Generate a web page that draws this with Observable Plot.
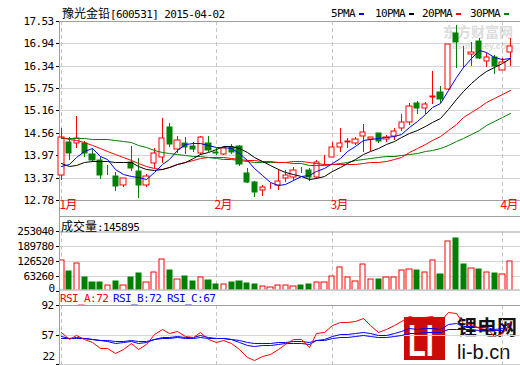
<!DOCTYPE html>
<html><head><meta charset="utf-8">
<script src="https://cdn.jsdelivr.net/npm/d3@7"></script>
<script src="https://cdn.jsdelivr.net/npm/@observablehq/plot@0.6"></script>
<style>
body{margin:0;background:#fff}
#wrap{position:relative;width:520px;height:365px;overflow:hidden;background:#fff}
.t{position:absolute;white-space:nowrap;line-height:14px}
.m{font-family:"DejaVu Sans Mono",monospace;font-size:11px;letter-spacing:-0.6px}
.c{font-family:"Noto Sans CJK SC",sans-serif;font-size:12px}
.dash{position:absolute;height:2px;width:5px}
.hl{position:absolute;height:1px;background:#a0a0a0}
</style></head><body><div id="wrap"></div>
<script>
// ---- data ----
const monthIdx = [0, 20, 35, 57];
const monthLabels = ["1月", "2月", "3月", "4月"];
const priceTicks = [12.78, 13.37, 13.97, 14.56, 15.16, 15.75, 16.34, 16.94, 17.53];
const volTicks = [0, 63260, 126520, 189780, 253040];
const rsiTicks = [22, 57, 92];

const open  = [13.44,14.33,14.28,14.28,14.00,13.84,13.54,13.42,13.18,13.80,13.56,13.18,13.75,13.93,14.71,14.13,14.30,14.21,14.02,14.28,14.05,13.99,14.19,14.21,13.50,13.27,13.05,13.15,13.18,13.36,13.38,13.58,13.58,13.38,13.83,13.93,14.18,14.31,14.30,14.49,14.39,14.55,14.40,14.48,14.70,14.84,15.35,15.21,15.52,15.65,15.72,17.20,16.68,16.65,17.01,16.47,16.58,16.23,16.72];
const high  = [14.68,14.44,15.01,14.35,14.15,13.91,13.71,13.53,13.36,14.21,13.89,13.47,14.15,14.95,14.83,14.48,14.44,14.33,14.48,14.48,14.15,14.19,14.26,14.24,13.62,13.29,13.18,13.22,13.59,13.58,13.65,13.66,13.62,13.84,13.97,14.33,14.68,14.42,14.46,14.80,14.46,14.57,14.50,14.68,15.07,15.35,15.41,15.37,16.20,15.81,16.92,17.42,16.87,16.98,17.09,16.67,16.63,16.56,17.09];
const low   = [13.31,13.84,14.15,13.91,13.80,13.34,13.44,13.03,13.12,13.56,12.84,13.12,13.62,13.75,14.18,14.02,14.00,14.06,13.97,14.06,13.97,13.97,14.00,13.69,13.22,12.87,12.89,13.06,13.05,13.27,13.29,13.49,13.29,13.36,13.71,13.91,14.06,14.15,14.24,14.06,14.09,14.28,14.33,14.37,14.61,14.77,15.05,15.05,15.32,15.35,15.71,16.28,16.28,16.34,16.51,16.32,16.12,16.22,16.34];
const close = [14.46,14.04,14.43,14.04,13.84,13.44,13.56,13.16,13.36,13.64,13.18,13.42,14.04,14.42,14.26,14.37,14.19,14.14,14.44,14.11,14.04,14.15,14.05,13.73,13.27,13.00,13.13,13.16,13.28,13.44,13.58,13.57,13.38,13.80,13.85,14.19,14.28,14.35,14.39,14.58,14.44,14.35,14.44,14.62,14.84,15.28,15.21,15.32,15.54,15.45,16.91,16.97,16.67,16.72,16.54,16.58,16.34,16.45,16.87];
const volume = [131700,84900,120000,58500,36600,36600,26300,41000,26300,58500,76100,39500,80500,136100,89200,52700,61400,41000,60000,45400,29300,27800,36600,41000,33600,27800,21900,17600,26300,26300,21900,23400,27800,36600,39500,61400,101000,57100,43900,114100,52700,49700,57100,57100,87800,92200,89200,79000,131700,71700,210700,225300,115600,96600,93600,80500,76100,71700,127300];

const ma5  = [13.69,13.74,13.91,14.09,14.16,13.96,13.86,13.61,13.47,13.43,13.38,13.35,13.53,13.74,13.86,14.10,14.26,14.28,14.28,14.25,14.18,14.18,14.16,14.02,13.85,13.64,13.44,13.26,13.17,13.20,13.32,13.41,13.45,13.55,13.64,13.76,13.90,14.09,14.21,14.36,14.41,14.42,14.44,14.49,14.54,14.71,14.88,15.05,15.24,15.36,15.69,16.04,16.31,16.54,16.76,16.70,16.57,16.53,16.56];
const ma10 = [13.75,13.69,13.72,13.78,13.81,13.82,13.81,13.80,13.79,13.80,13.67,13.61,13.57,13.61,13.65,13.74,13.80,13.90,14.01,14.06,14.14,14.22,14.22,14.15,14.05,13.91,13.81,13.71,13.59,13.53,13.48,13.42,13.35,13.36,13.42,13.54,13.65,13.77,13.88,14.00,14.08,14.16,14.27,14.35,14.45,14.56,14.65,14.75,14.86,14.95,15.20,15.46,15.68,15.89,16.06,16.19,16.30,16.42,16.55];
const ma20 = [14.44,14.40,14.37,14.32,14.25,14.17,14.09,14.00,13.92,13.85,13.77,13.68,13.62,13.60,13.66,13.73,13.80,13.85,13.90,13.93,13.91,13.91,13.89,13.88,13.85,13.83,13.81,13.81,13.80,13.79,13.81,13.82,13.79,13.76,13.73,13.73,13.73,13.74,13.74,13.76,13.78,13.79,13.81,13.86,13.93,14.05,14.15,14.26,14.37,14.47,14.64,14.81,14.97,15.12,15.26,15.37,15.48,15.58,15.71];
const ma30 = [14.42,14.42,14.42,14.42,14.41,14.40,14.39,14.37,14.35,14.31,14.25,14.18,14.10,14.05,14.02,14.00,13.98,13.96,13.94,13.92,13.90,13.88,13.86,13.83,13.81,13.80,13.80,13.80,13.80,13.79,13.76,13.75,13.71,13.71,13.71,13.73,13.75,13.79,13.83,13.86,13.90,13.93,13.95,13.95,13.97,14.00,14.04,14.08,14.11,14.16,14.25,14.35,14.43,14.53,14.64,14.76,14.87,14.98,15.10];

const rsiA = [60.1,51.2,57.0,51.2,48.5,41.5,40.7,35.6,39.5,47.3,39.5,45.3,57.8,63.6,59.0,60.9,55.0,53.9,59.7,51.2,48.5,50.0,47.3,39.5,30.5,26.7,31.0,33.7,39.5,46.1,52.0,52.0,42.6,59.0,60.1,68.7,71.4,71.8,72.6,76.5,68.7,59.7,63.6,68.7,73.3,79.5,76.5,77.6,78.4,72.6,83.5,82.3,70.6,69.5,64.8,65.6,55.8,59.0,72.0];
const rsiB = [55.0,53.0,54.0,52.5,52.0,50.0,49.0,47.5,48.0,49.0,47.5,48.0,51.5,54.5,54.0,55.0,54.5,54.0,56.0,54.0,53.0,53.0,52.0,48.5,45.0,43.5,44.0,44.5,45.5,46.5,47.5,47.5,45.5,50.5,52.0,55.5,57.5,58.0,58.5,60.5,58.5,56.0,57.0,59.0,61.5,64.5,64.0,64.5,65.0,63.5,70.0,70.5,67.5,67.0,65.5,66.0,63.5,64.5,72.0];
const rsiC = [53.0,52.5,53.0,52.5,52.0,51.0,50.5,49.5,49.5,50.0,49.0,49.5,51.5,53.0,53.0,53.5,53.0,53.0,54.0,53.0,52.5,52.5,52.0,50.5,48.5,47.5,47.5,47.5,48.0,48.5,49.0,49.0,48.0,50.5,51.0,53.0,54.0,54.5,55.0,56.0,55.0,54.0,54.5,55.5,57.0,59.0,59.0,59.5,60.0,59.5,63.5,64.0,63.0,63.0,62.5,63.0,62.0,62.5,67.0];

// ---- drawing ----
const wrap = document.getElementById("wrap");
const idx = d3.range(close.length);
const up = idx.filter(i => close[i] >= open[i]);
const dn = idx.filter(i => close[i] < open[i]);
const RED = "#ff0000", GRN = "#008000", FRAME = "#a0a0a0", GRID = "#d4d4d4", DASH = "#c4c4c4";
const X = {domain: [0, 58], range: [61, 509.7], round: true, axis: null};
const baseStyle = {background: "transparent", fontFamily: "DejaVu Sans Mono, monospace", fontSize: "11px", letterSpacing: "-0.6px", color: "#000", overflow: "visible"};
const hw = 0.34;

function put(el, top, left, z) {
  el.style.position = "absolute"; el.style.top = top + "px"; el.style.left = left + "px"; el.style.zIndex = z;
  wrap.appendChild(el);
}

// price panel
const price = Plot.plot({
  width: 520, height: 217, marginLeft: 59, marginRight: 0, marginTop: 21, marginBottom: 17,
  style: baseStyle,
  x: X,
  y: {domain: [12.78, 17.53], range: [200, 21], round: true, ticks: priceTicks, tickFormat: d => d.toFixed(2), tickSize: 3, tickPadding: 3, label: null},
  marks: [
    Plot.ruleY(priceTicks.slice(1, -1), {stroke: GRID}),
    Plot.ruleX(monthIdx, {stroke: DASH, strokeDasharray: "4,3"}),
    Plot.frame({stroke: FRAME}),
    Plot.ruleX(up, {x: i => i, y1: i => low[i], y2: i => high[i], stroke: RED}),
    Plot.ruleX(dn, {x: i => i, y1: i => low[i], y2: i => high[i], stroke: GRN}),
    Plot.rect(up, {x1: i => i - hw, x2: i => i + hw, y1: i => open[i], y2: i => close[i], fill: "white", stroke: RED}),
    Plot.rect(dn, {x1: i => i - hw, x2: i => i + hw, y1: i => open[i], y2: i => close[i], fill: GRN, stroke: GRN}),
    Plot.lineY(ma30, {x: (d, i) => i, y: d => d, stroke: GRN, strokeWidth: 1}),
    Plot.lineY(ma20, {x: (d, i) => i, y: d => d, stroke: RED, strokeWidth: 1}),
    Plot.lineY(ma10, {x: (d, i) => i, y: d => d, stroke: "#000", strokeWidth: 1}),
    Plot.lineY(ma5, {x: (d, i) => i, y: d => d, stroke: "#0000ff", strokeWidth: 1}),
    Plot.text(monthIdx, {x: d => d, text: (d, i) => monthLabels[i], frameAnchor: "bottom", dy: 8, dx: -2, textAnchor: "start", fill: RED, fontFamily: "Noto Sans CJK SC", fontSize: 12})
  ]
});
put(price, 0, 0, 2);

// volume panel
const vol = Plot.plot({
  width: 520, height: 74, marginLeft: 59, marginRight: 0, marginTop: 15.5, marginBottom: 0.5,
  style: baseStyle,
  x: X,
  y: {domain: [0, 253040], range: [75, 15], round: true, ticks: volTicks, tickFormat: d => d === 0 ? "" : String(d), tickSize: 3, tickPadding: 3, label: null},
  marks: [
    Plot.ruleY(volTicks.slice(1, -1), {stroke: GRID}),
    Plot.ruleX(monthIdx, {stroke: DASH, strokeDasharray: "4,3"}),
    Plot.rect(up, {x1: i => i - hw, x2: i => i + hw, y1: 0, y2: i => volume[i], fill: "white", stroke: RED, clip: true}),
    Plot.rect(dn, {x1: i => i - hw, x2: i => i + hw, y1: 0, y2: i => volume[i], fill: GRN, stroke: GRN, clip: true}),
    Plot.frame({stroke: FRAME}),
    Plot.text(["0"], {frameAnchor: "bottom-left", text: d => d, textAnchor: "end", dx: -5, dy: 1.5})
  ]
});
put(vol, 216, 0, 2);

// RSI panel
const rsi = Plot.plot({
  width: 520, height: 75, marginLeft: 59, marginRight: 0, marginTop: 15, marginBottom: 0.5,
  style: baseStyle,
  x: X,
  y: {domain: [22, 92], range: [74, 15], round: true, ticks: rsiTicks, tickFormat: d => d === 22 ? "" : String(d), tickSize: 3, tickPadding: 3, label: null},
  marks: [
    Plot.ruleY([57], {stroke: GRID}),
    Plot.ruleX(monthIdx, {stroke: DASH, strokeDasharray: "4,3"}),
    Plot.frame({stroke: FRAME}),
    Plot.lineY(rsiC, {x: (d, i) => i, y: d => d, stroke: "#0000ff", strokeWidth: 1}),
    Plot.lineY(rsiB, {x: (d, i) => i, y: d => d, stroke: "#0000ff", strokeWidth: 1}),
    Plot.lineY(rsiA, {x: (d, i) => i, y: d => d, stroke: RED, strokeWidth: 1}),
    Plot.text(["22"], {frameAnchor: "bottom-left", text: d => d, textAnchor: "end", dx: -5, dy: -5})
  ]
});
put(rsi, 290, 0, 3);

// ---- texts & decorations ----
function txt(html, top, left, cls, style, z) {
  const d = document.createElement("div");
  d.className = "t " + (cls || ""); d.innerHTML = html;
  if (style) d.setAttribute("style", style);
  d.style.top = top + "px"; d.style.left = left + "px"; d.style.zIndex = z || 4;
  wrap.appendChild(d); return d;
}
const title = ["豫光金铅", "[600531] 2015-04-02"];
txt(`<span class="c">${title[0]}</span><span class="m">${title[1]}</span>`, 6, 62);

const legendNames = ["5PMA", "10PMA", "20PMA", "30PMA"];
const legendColors = ["#0000ff", "#000000", RED, GRN];
const legendX = [331, 375, 422, 470];
legendNames.forEach((n, k) => {
  txt(n, 7, legendX[k], "m");
  const s = document.createElement("div"); s.className = "dash";
  s.style.background = legendColors[k]; s.style.left = (legendX[k] + n.length * 6 + 4) + "px"; s.style.top = "13px"; s.style.zIndex = 4;
  wrap.appendChild(s);
});

// watermark
txt("东方财富网", 24, 443, "", "font-family:'Noto Sans CJK SC';font-weight:bold;font-size:14px;line-height:15px;color:#dcdcdc", 1);
txt("eastmoney.com", 42, 447, "", "font-family:'Liberation Sans';font-weight:bold;font-size:9px;line-height:9px;color:#dcdcdc", 1);

const volHeader = ["成交量", ":145895"];
txt(`<span class="c">${volHeader[0]}</span><span class="m">${volHeader[1]}</span>`, 219, 61);
const rsiHeader = [["RSI_A:72", RED, 60], ["RSI_B:72", "#0000ff", 113], ["RSI_C:67", "#0000ff", 167]];
rsiHeader.forEach(([s, col, x]) => txt(s, 292, x, "m", "color:" + col));

// panel separators
const sep = document.createElement("div"); sep.className = "hl";
sep.style.top = "216px"; sep.style.left = "59px"; sep.style.width = "461px"; wrap.appendChild(sep);
const vl = document.createElement("div"); vl.style.cssText = "position:absolute;left:59px;top:21px;width:1px;height:344px;background:#a0a0a0;z-index:1"; wrap.appendChild(vl);

// Li logo
const logo = document.createElement("div");
logo.style.cssText = "position:absolute;left:404px;top:317px;width:41px;height:43px;background:#cc0a0a;z-index:1";
logo.innerHTML = '<div style="position:absolute;left:4px;top:2px;font-family:Liberation Sans;font-weight:bold;font-size:44px;line-height:44px;color:#fff;transform:scaleX(0.66);transform-origin:left top">LI</div>';
wrap.appendChild(logo);
txt("锂电网", 316, 457, "", "font-family:'Noto Sans CJK SC';font-weight:bold;font-size:20px;line-height:22px;color:#111", 1);
txt("li-b.cn", 341, 457, "", "font-family:'Liberation Sans';font-size:20px;line-height:22px;color:#111", 1);
</script></body></html>
